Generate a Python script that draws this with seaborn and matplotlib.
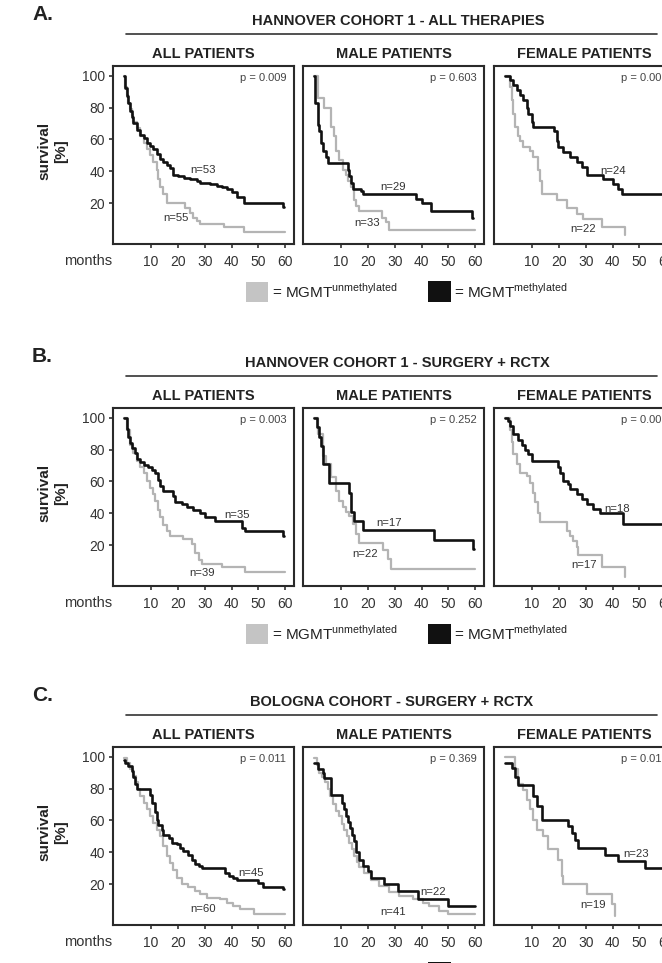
import matplotlib
matplotlib.use("Agg")
import matplotlib.pyplot as plt
import seaborn as sns
from matplotlib.patches import Rectangle
from matplotlib.lines import Line2D

# -------------------------
# Data (months, survival %)
# m = MGMT methylated (black), u = MGMT unmethylated (grey)
# -------------------------
A_all_m_t = [0, 0.3, 0.9, 1.5, 2.2, 2.8, 3.4, 4.7, 5.9, 7.2, 8.4, 9.6, 10.9, 12.1, 13.4, 14.6, 15.9, 17.1, 18.3, 20.2,
             22.1, 24.6, 27.1, 28.4, 32.1, 34.6, 36.5, 38.4, 40.2, 42.1, 44.6, 59.3]
A_all_m_s = [100, 92, 87, 83, 78, 74, 70, 66, 63, 61, 58, 56, 54, 51, 48, 46, 44, 42, 38, 37,
             36, 35, 34, 33, 32, 31, 30, 29, 27, 24, 20, 17.5]
A_all_u_t = [0, 0.3, 0.9, 1.5, 2.2, 2.8, 3.4, 4.7, 5.9, 7.2, 8.4, 9.6, 10.9, 12.1, 12.7, 13.4, 14.6, 15.9, 22.7,
             24.6, 25.8, 27.1, 28.4, 37.1, 44.6]
A_all_u_s = [100, 93, 88, 83, 79, 75, 71, 67, 62, 58, 54, 50, 46, 41, 35, 30, 26, 20, 17,
             14, 11, 9, 7, 5, 2]

A_male_m_t = [0, 0.3, 1.3, 1.9, 2.6, 3.2, 4.4, 5.2, 12.5, 13.1, 13.7, 14.3, 17.4, 18.0, 38.0, 40.0, 43.6, 58.7]
A_male_m_s = [100, 83, 69, 65, 58, 53, 49, 45, 41, 37, 33, 29, 28, 26, 23, 20, 15, 11]
A_male_u_t = [0, 1.3, 3.8, 6.2, 7.4, 8.1, 9.4, 10.6, 11.8, 12.4, 13.7, 14.9, 15.6, 16.8, 25.2, 26.6, 27.9]
A_male_u_s = [100, 86, 80, 68, 62, 53, 47, 41, 38, 34, 30, 22, 18, 15, 11, 8, 3.5]

A_fem_m_t = [0, 1.7, 3.0, 4.2, 5.5, 6.7, 8.0, 8.6, 9.8, 10.4, 18.0, 19.2, 19.8, 21.6, 24.1, 26.6, 28.5, 30.3,
             36.6, 40.3, 42.2, 43.4]
A_fem_m_s = [100, 97, 94, 91, 88, 85, 80, 76, 71, 68, 65, 59, 55, 52, 49, 46, 43, 38, 35, 32, 29, 26]
A_fem_u_t = [0, 1.7, 2.4, 3.0, 3.6, 4.8, 5.5, 6.7, 9.2, 10.4, 12.3, 13.0, 13.6, 19.2, 22.9, 26.6, 29.1, 36.0, 44.7]
A_fem_u_s = [100, 93, 85, 76, 68, 62, 59, 55, 53, 49, 41, 34, 26, 22, 17, 13, 10, 5, 0]

B_all_m_t = [0, 1.0, 1.5, 2.2, 2.8, 4.0, 4.7, 5.9, 7.2, 9.0, 10.2, 11.5, 12.7, 13.4, 14.6, 18.3, 19.0, 21.5, 23.3,
             25.8, 28.3, 30.0, 33.9, 43.8, 45.0, 59.3]
B_all_m_s = [100, 93, 88, 84, 81, 78, 74, 72, 70, 69, 67, 65, 61, 57, 54, 51, 47, 46, 44,
             42, 40, 38, 35.5, 31, 29, 26]
B_all_u_t = [0, 1.0, 2.2, 3.4, 4.7, 5.9, 7.2, 8.4, 9.6, 10.9, 11.5, 12.7, 13.4, 14.6, 15.9, 17.1, 22.0, 25.2, 26.4,
             27.7, 28.9, 36.4, 45.0]
B_all_u_s = [100, 92, 83, 78, 73, 69, 65, 60, 56, 52, 48, 42, 38, 33, 29, 26, 24, 21, 15, 11, 8.5, 6.4, 3.3]

B_male_m_t = [0, 1.2, 1.9, 2.5, 3.1, 5.6, 13.1, 13.7, 15.0, 18.1, 44.8, 59.1]
B_male_m_s = [100, 94, 88, 82, 71, 59, 53, 41, 35, 29.5, 23.5, 17.6]
B_male_u_t = [0, 1.3, 3.1, 4.4, 6.3, 8.1, 9.4, 10.6, 11.9, 13.1, 14.3, 15.6, 16.8, 25.5, 27.4, 28.6]
B_male_u_s = [100, 90, 76, 71, 63, 54, 48, 44, 41, 38.5, 33.5, 27, 21.5, 17, 11.6, 5]

B_fem_m_t = [0, 1.1, 1.7, 3.0, 4.9, 6.1, 7.3, 8.6, 9.8, 19.8, 20.4, 21.6, 23.5, 24.1, 26.6, 28.5, 30.3, 32.8,
             35.3, 44.0]
B_fem_m_s = [100, 98, 95, 90, 86, 83, 80, 77, 73, 69, 65, 60.5, 58.5, 55, 52, 49, 46, 43, 40, 33.5]
B_fem_u_t = [0, 1.7, 2.4, 3.0, 4.2, 5.5, 8.0, 9.2, 10.4, 11.1, 12.3, 13.0, 22.9, 24.1, 25.4, 26.6, 27.2, 36.0, 44.7]
B_fem_u_s = [100, 92, 85, 77, 71, 65, 63.5, 59, 53, 47, 40, 34.5, 29, 26, 23, 19, 13.7, 6.4, 0]

C_all_m_t = [0, 0.3, 1.5, 2.8, 3.4, 4.0, 4.7, 9.6, 10.2, 11.5, 12.1, 12.7, 14.0, 14.6, 16.5, 17.7, 19.6, 20.8,
             22.0, 23.9, 25.2, 26.4, 27.7, 28.9, 37.6, 38.9, 40.7, 42.0, 50.0, 51.9, 59.3]
C_all_m_s = [98, 96, 94, 91, 87.5, 83, 80, 76, 71, 65, 60.5, 57, 54, 51, 49, 46, 45, 43,
             41, 38.6, 35.5, 32.4, 31.4, 30.3, 27.2, 25, 24, 23, 21, 18, 16.8]
C_all_u_t = [0, 1.0, 2.2, 3.2, 4.2, 5.0, 5.9, 7.2, 8.4, 9.6, 10.9, 12.1, 13.4, 14.6, 15.9, 17.1, 18.3, 19.6,
             21.5, 23.9, 26.4, 28.3, 30.8, 35.7, 38.3, 40.7, 43.2, 48.2]
C_all_u_s = [99, 96, 92, 88, 84, 80, 75, 71, 67, 62.5, 58.4, 54, 50, 44, 37.6, 33.5, 29, 24,
             20, 18, 15.8, 13.7, 11.6, 10.6, 8.5, 6.4, 4.4, 1.2]

C_male_m_t = [0, 1.3, 3.1, 3.8, 6.3, 10.3, 11.2, 11.9, 12.6, 13.3, 14.0, 14.7, 15.5, 16.8, 18.0, 19.9, 21.1,
              26.1, 31.1, 38.6, 49.8]
C_male_m_s = [96, 92, 89.6, 86.5, 76, 71, 67, 63, 59, 55, 51, 47, 40, 35.5, 31.4, 28.3, 24.1,
              20, 15.8, 10.6, 6.4]
C_male_u_t = [0, 1.0, 1.9, 3.0, 4.0, 5.0, 6.0, 7.0, 8.0, 9.3, 10.2, 11.2, 12.2, 13.1, 14.0, 14.9, 15.8, 16.8,
              18.7, 21.1, 24.3, 28.0, 31.7, 36.7, 40.4, 42.9, 46.6, 50.0]
C_male_u_s = [99, 95, 90, 87, 84, 80, 75, 70, 66, 62.5, 58, 54, 50, 46, 42, 37.6, 34, 31,
              27, 23, 19, 15, 12.7, 10.6, 8.5, 6.4, 3.3, 1.2]

C_fem_m_t = [0, 2.4, 3.6, 4.9, 10.4, 11.7, 13.6, 23.5, 24.8, 26.1, 27.2, 37.2, 42.2, 52.1]
C_fem_m_s = [96, 92.7, 87.5, 82.3, 75, 68.8, 60.5, 56.3, 52.2, 48, 42.8, 38.6, 34.5, 30.3]
C_fem_u_t = [0, 3.6, 4.9, 6.7, 8.0, 9.2, 10.4, 11.7, 14.2, 16.0, 19.8, 21.0, 21.6, 30.3, 39.7, 40.9]
C_fem_u_s = [100, 92, 83, 79, 73, 67, 60.5, 54, 50, 42, 35.5, 25, 20, 13.7, 7.5, 0]

# follow-up end of each curve (last censoring), [m, u] per panel
ends = [[59.6, 60], [59.3, 60], [60, 44.7],
        [59.6, 60], [59.4, 60], [60, 44.7],
        [59.6, 60], [60, 60], [60, 40.9]]

p_values = [["0.009", "0.603", "0.00"],
            ["0.003", "0.252", "0.00"],
            ["0.011", "0.369", "0.01"]]

n_m = [[53, 29, 24], [35, 17, 18], [45, 22, 23]]
n_u = [[55, 33, 22], [39, 22, 17], [60, 41, 19]]
n_m_pos = [[(29.4, 40.6), (29.3, 30), (40.3, 40.1)],
           [(42, 38.7), (28, 34.1), (41.6, 42.8)],
           [(47.2, 26.8), (44.2, 15.2), (48.8, 39.1)]]
n_u_pos = [[(19.4, 10.8), (19.6, 7.4), (29.1, 4.2)],
           [(29.2, 2.9), (19.1, 14.8), (29.4, 7.9)],
           [(29.5, 4.4), (29.5, 2.7), (32.6, 6.9)]]

row_letters = ["A.", "B.", "C."]
row_titles = ["HANNOVER COHORT 1 - ALL THERAPIES",
              "HANNOVER COHORT 1 - SURGERY + RCTX",
              "BOLOGNA COHORT - SURGERY + RCTX"]
col_titles = ["ALL PATIENTS", "MALE PATIENTS", "FEMALE PATIENTS"]
x_ticks = [10, 20, 30, 40, 50, 60]
y_ticks = [20, 40, 60, 80, 100]

curves = [
    [(A_all_m_t, A_all_m_s, A_all_u_t, A_all_u_s),
     (A_male_m_t, A_male_m_s, A_male_u_t, A_male_u_s),
     (A_fem_m_t, A_fem_m_s, A_fem_u_t, A_fem_u_s)],
    [(B_all_m_t, B_all_m_s, B_all_u_t, B_all_u_s),
     (B_male_m_t, B_male_m_s, B_male_u_t, B_male_u_s),
     (B_fem_m_t, B_fem_m_s, B_fem_u_t, B_fem_u_s)],
    [(C_all_m_t, C_all_m_s, C_all_u_t, C_all_u_s),
     (C_male_m_t, C_male_m_s, C_male_u_t, C_male_u_s),
     (C_fem_m_t, C_fem_m_s, C_fem_u_t, C_fem_u_s)],
]

# -------------------------
# Style / layout
# -------------------------
sns.set_theme(style="white")
plt.rcParams['font.family'] = ['Liberation Sans', 'DejaVu Sans']
plt.rcParams['mathtext.fontset'] = 'custom'
plt.rcParams['mathtext.rm'] = 'Liberation Sans'

W, H = 662, 963
GREY = "#b4b4b4"
BLACK = "#111111"
TXT = "#222222"


def fx(px):
    return px / W


def fy(py):
    return 1 - py / H


def km_xy(t, s, end):
    x, y = list(t), list(s)
    if end > x[-1]:
        x.append(end)
        y.append(y[-1])
    return x, y


row_top = [66, 408, 747]
col_left = [113, 303, 494]
ax_w, ax_h = 181, 178
header_x = [398, 397, 392]

fig = plt.figure(figsize=(W / 100, H / 100), dpi=100)

for r in range(3):
    top = row_top[r]
    fig.text(fx(32), fy(top - 52), row_letters[r], fontsize=15, fontweight="bold",
             ha="left", va="center", color=TXT)
    fig.text(fx(header_x[r]), fy(top - 45), row_titles[r], fontsize=10.5, fontweight="bold",
             ha="center", va="center", color=TXT)
    fig.add_artist(Line2D([fx(126), fx(657)], [fy(top - 32), fy(top - 32)],
                          transform=fig.transFigure, color="#333333", lw=1.2))
    fig.text(fx(53), fy(top + 85), "survival\n[%]", fontsize=11, fontweight="bold",
             rotation=90, ha="center", va="center", linespacing=1.25, color=TXT)

    for c in range(3):
        ax = fig.add_axes([fx(col_left[c]), fy(top + ax_h), ax_w / W, ax_h / H])
        mt, ms, ut, us = curves[r][c]
        end_m, end_u = ends[r * 3 + c]

        ux, uy = km_xy(ut, us, end_u)
        mx, my = km_xy(mt, ms, end_m)
        sns.lineplot(x=ux, y=uy, ax=ax, color=GREY, linewidth=1.6, drawstyle="steps-post",
                     estimator=None, sort=False, legend=False)
        sns.lineplot(x=mx, y=my, ax=ax, color=BLACK, linewidth=1.9, drawstyle="steps-post",
                     estimator=None, sort=False, legend=False)

        ax.set_xlim(-4.2, 63.3)
        ax.set_ylim(-5.5, 106)
        ax.set_xticks(x_ticks)
        ax.set_xlabel("")
        ax.set_ylabel("")
        if c == 0:
            ax.set_yticks(y_ticks)
        else:
            ax.set_yticks([])
        ax.tick_params(axis="x", bottom=True, direction="out", length=3, width=1.2,
                       colors="#333333", labelsize=10, pad=5)
        ax.tick_params(axis="y", left=(c == 0), direction="out", length=3, width=1.2,
                       colors="#333333", labelsize=10, pad=3)
        for sp in ax.spines.values():
            sp.set_linewidth(1.5)
            sp.set_color("#2a2a2a")

        ax.set_title(col_titles[c], fontsize=10.5, fontweight="bold", color=TXT, pad=6)
        ax.text(0.70, 0.932, "p = " + p_values[r][c], transform=ax.transAxes, fontsize=8,
                ha="left", va="center", color="#444444")
        ax.text(*n_m_pos[r][c], f"n={n_m[r][c]}", fontsize=8.2, ha="center", va="center",
                color="#333333")
        ax.text(*n_u_pos[r][c], f"n={n_u[r][c]}", fontsize=8.2, ha="center", va="center",
                color="#333333")
        if c == 0:
            ax.text(-0.005, -0.097, "months", transform=ax.transAxes, fontsize=10.5,
                    ha="right", va="center", color="#333333")

    # legend
    fig.add_artist(Rectangle((fx(245.7), fy(top + 236)), 22.6 / W, 20 / H,
                             transform=fig.transFigure, facecolor="#c4c4c4", edgecolor="none"))
    fig.text(fx(272), fy(top + 232), r"= MGMT$^{\mathregular{unmethylated}}$", fontsize=11,
             ha="left", va="baseline", color=TXT)
    fig.add_artist(Rectangle((fx(428.3), fy(top + 236)), 22.4 / W, 20.5 / H,
                             transform=fig.transFigure, facecolor=BLACK, edgecolor="none"))
    fig.text(fx(454), fy(top + 232), r"= MGMT$^{\mathregular{methylated}}$", fontsize=11,
             ha="left", va="baseline", color=TXT)

plt.savefig("out.png", dpi=100)
